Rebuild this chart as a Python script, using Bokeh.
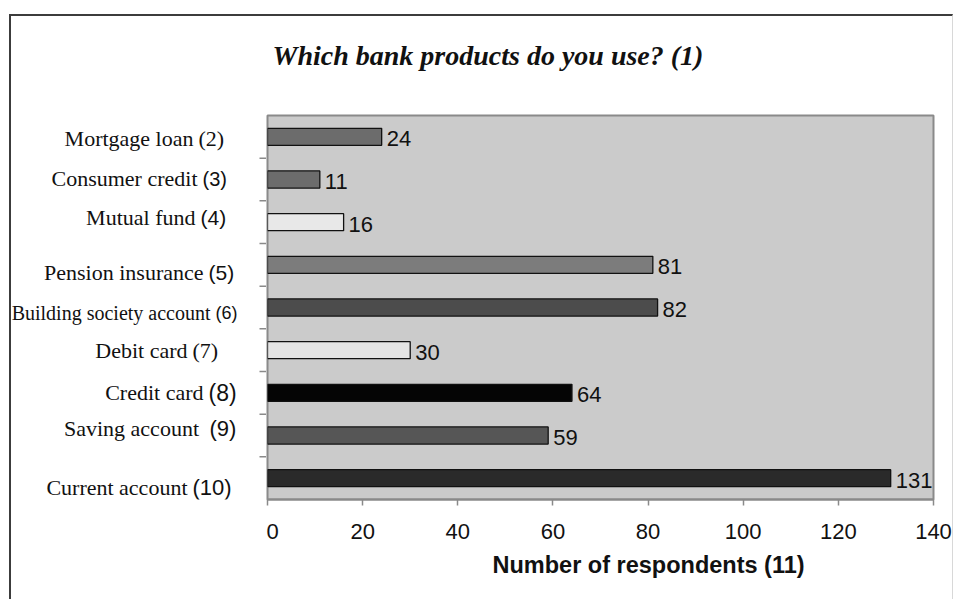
from bokeh.plotting import figure
from bokeh.layouts import row
from bokeh.models import (ColumnDataSource, Range1d, FixedTicker, LabelSet, Title)
from bokeh.core.properties import value
from bokeh.embed import file_html
from bokeh.resources import INLINE

# Survey data: products listed top to bottom
products = ["Mortgage loan", "Consumer credit", "Mutual fund", "Pension insurance",
            "Building society account", "Debit card", "Credit card", "Saving  account",
            "Current account"]
tags = ["(2)", "(3)", "(4)", "(5)", "(6)", "(7)", "(8)", "(9)", "(10)"]
respondents = [24, 11, 16, 81, 82, 30, 64, 59, 131]
x_ticks = [0, 20, 40, 60, 80, 100, 120, 140]

# Presentation
bar_colors = ["#6c6c6c", "#6c6c6c", "#e8e8e8", "#7c7c7c", "#4c4c4c",
              "#e4e4e4", "#050505", "#565656", "#2a2a2a"]
name_sizes = ["22px", "22px", "22px", "22px", "20px", "22px", "22px", "22px", "22px"]
tag_fonts = ["Liberation Serif", "Liberation Sans", "Liberation Sans", "Liberation Sans",
             "Liberation Sans", "Liberation Serif", "Liberation Sans", "Liberation Sans",
             "Liberation Sans"]
tag_sizes = ["22px", "20px", "21px", "21px", "18px", "22px", "23px", "22px", "22px"]
tag_start = [198, 202, 200, 208, 215, 192, 208, 209, 192]   # page x where each tag begins
label_dy = [2, -1, -5, 8, 5, 0, 0, -7, 9]                     # pixel nudge of each label line

n = len(products)
ypos = [n - i - 0.5 for i in range(n)]

OFF_X, OFF_Y = 9, 14
IN_L, IN_T = OFF_X + 2, OFF_Y + 2        # page position of the drawing area
FRAME_L, FRAME_T, FRAME_R, FRAME_B = 267, 115, 933, 499
H = 599 - IN_T
TOP_B = FRAME_T - IN_T
BOT_B = H - (FRAME_B - IN_T)
LEFT_W = FRAME_L - 1 - IN_L
RIGHT_W = 954 - 2 - FRAME_L + 1

# ---- category labels panel ----
lab = ColumnDataSource(dict(
    y=ypos, name=products, ns=name_sizes, tag=tags, tf=tag_fonts, ts=tag_sizes,
    xs=tag_start, xn=[s - 5 for s in tag_start], dy=label_dy))

pl = figure(width=LEFT_W, height=H, output_backend="svg", toolbar_location=None,
            x_range=Range1d(IN_L, FRAME_L - 1), y_range=Range1d(0, n),
            min_border_left=0, min_border_right=0,
            min_border_top=TOP_B, min_border_bottom=BOT_B,
            x_axis_location=None, y_axis_location=None)
pl.outline_line_color = None
pl.grid.visible = False
pl.background_fill_color = "white"
pl.border_fill_color = "white"

pl.text(x="xn", y="y", text="name", source=lab, y_offset="dy",
        text_align="right", text_baseline="middle",
        text_font=value("Liberation Serif"), text_font_size="ns",
        text_color="#111111")
pl.text(x="xs", y="y", text="tag", source=lab, y_offset="dy",
        text_align="left", text_baseline="middle",
        text_font="tf", text_font_size="ts", text_color="#111111")

# y-axis tick marks at category boundaries, just left of the plot frame
bounds = list(range(1, n))
pl.segment(x0=[FRAME_L - 8] * len(bounds), x1=[FRAME_L - 1] * len(bounds),
           y0=bounds, y1=bounds, line_color="#8a8a8a", line_width=1.5)

# ---- bar chart ----
src = ColumnDataSource(dict(y=ypos, v=respondents, c=bar_colors,
                            t=[str(v) for v in respondents]))

p = figure(width=RIGHT_W, height=H, output_backend="svg", toolbar_location=None,
           x_range=Range1d(0, 140), y_range=Range1d(0, n),
           min_border_left=1, min_border_right=RIGHT_W - 1 - (FRAME_R - FRAME_L),
           min_border_top=TOP_B, min_border_bottom=BOT_B,
           y_axis_location=None, title_location=None)

p.background_fill_color = "#cbcbcb"
p.border_fill_color = "white"
p.outline_line_color = "#8a8a8a"
p.outline_line_width = 2
p.grid.visible = False

p.hbar(y="y", right="v", left=0, height=0.4, source=src,
       fill_color="c", line_color="#111111", line_width=1.3)

p.add_layout(LabelSet(x="v", y="y", text="t", source=src, x_offset=5, y_offset=-2,
                      text_baseline="middle", text_font=value("Liberation Sans"),
                      text_font_size=value("22px"), text_color="#111111"))

xa = p.xaxis[0]
xa.ticker = FixedTicker(ticks=x_ticks)
xa.axis_line_color = "#8a8a8a"
xa.axis_line_width = 2
xa.major_tick_line_color = "#8a8a8a"
xa.major_tick_line_width = 1.5
xa.major_tick_out = 6
xa.major_tick_in = 0
xa.minor_tick_line_color = None
xa.major_label_text_font = "Liberation Sans"
xa.major_label_text_font_size = "22px"
xa.major_label_text_color = "#111111"
xa.major_label_standoff = 18

p.add_layout(Title(text="Number of respondents (11)", align="left", offset=225,
                   text_font="Liberation Sans", text_font_style="bold",
                   text_font_size="23.5px", text_color="#111111", standoff=16), "below")

# heading: a thin spacer sits next to the frame, the heading goes above it
p.add_layout(Title(text=" ", text_font_size="1px", standoff=42), "above")
p.add_layout(Title(text="Which bank products do you use? (1)", align="left", offset=5,
                   text_font="Liberation Serif", text_font_style="bold italic",
                   text_font_size="28px", text_color="#111111", standoff=0), "above")

page = row(pl, p, spacing=0,
           styles={"margin-left": f"{OFF_X}px", "margin-top": f"{OFF_Y}px",
                   "border-left": "2px solid #3c3c3c", "border-top": "2px solid #3c3c3c",
                   "border-right": "1px solid #d8d8d8", "background": "white"})

open("out.html", "w").write(file_html(page, INLINE))
